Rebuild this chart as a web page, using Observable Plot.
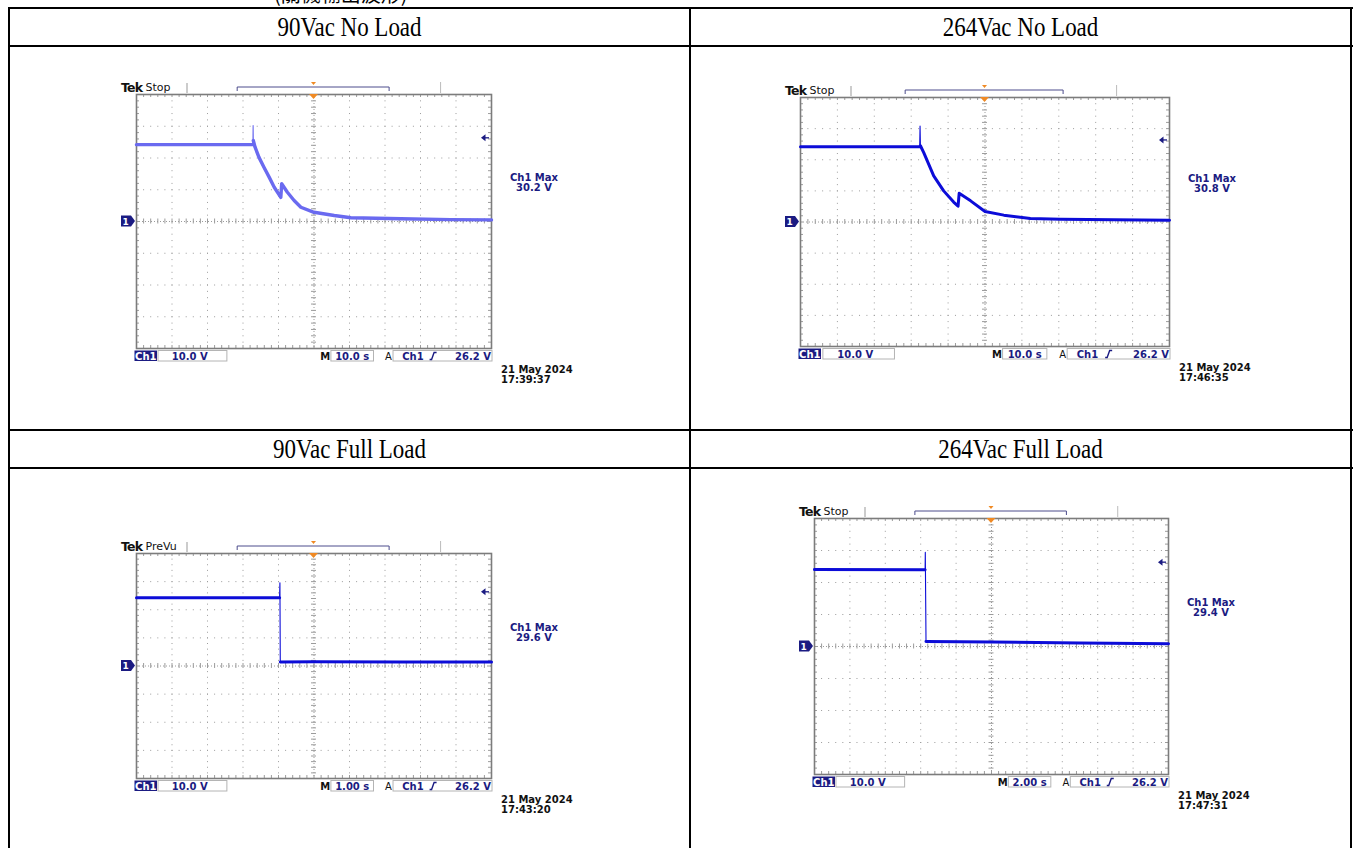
<!DOCTYPE html>
<html><head><meta charset="utf-8">
<script src="https://cdn.jsdelivr.net/npm/d3@7"></script>
<script src="https://cdn.jsdelivr.net/npm/@observablehq/plot@0.6"></script>
<style>
html,body{margin:0;padding:0;background:#fff;}
body{width:1359px;height:848px;overflow:hidden;position:relative;}
.hl{position:absolute;background:#000;height:2px;}
.vl{position:absolute;background:#000;width:2px;}
.hdr{position:absolute;display:flex;align-items:center;justify-content:center;font-family:"Liberation Serif",serif;font-size:28px;color:#000;transform:scaleX(0.82);white-space:nowrap;}
.scope{position:absolute;}
.cap{position:absolute;font-family:"Noto Sans CJK TC",sans-serif;font-size:20px;color:#000;white-space:nowrap;}
</style></head><body>
<script>
// ---------- data ----------
const headers = ["90Vac No Load", "264Vac No Load", "90Vac Full Load", "264Vac Full Load"];
const statusTexts = ["Stop", "Stop", "PreVu", "Stop"];
const secPerDiv = [10, 10, 1, 2];
const timebaseLabels = ["10.0 s", "10.0 s", "1.00 s", "2.00 s"];
const voltsPerDiv = 10;
const voltsPerDivLabel = "10.0 V";
const trigLevel = 26.2;
const trigLabel = "26.2 V";
const maxLabels = ["30.2 V", "30.8 V", "29.6 V", "29.4 V"];
const dateLabels = ["21 May 2024", "21 May 2024", "21 May 2024", "21 May 2024"];
const clockLabels = ["17:39:37", "17:46:35", "17:43:20", "17:47:31"];

// trace values: [time (s), volts]
const nl90Flat = [[-50, 24.2], [-17.2, 24.2]];
const nl90Peak = [-17.15, 30.2];
const nl90Tail = [[-17.1, 25.5], [-16.6, 23.4], [-15.5, 20.2], [-14.1, 17.1], [-12.6, 13.9], [-11.2, 10.8], [-9.35, 7.6], [-9.1, 11.9], [-7.5, 9.2], [-5.6, 6.6], [-3.7, 4.5], [0, 2.9], [5.7, 1.9], [10.4, 1.2], [24.5, 0.85], [38.5, 0.6], [50, 0.5]];

const nl264Flat = [[-50, 24.2], [-17.7, 24.2]];
const nl264Peak = [-17.6, 30.8];
const nl264Tail = [[-17.5, 24.5], [-16.6, 22.3], [-13.9, 14.8], [-11.2, 10.0], [-8.5, 6.4], [-7.3, 5.1], [-7.0, 9.2], [-3.9, 6.8], [0, 3.4], [5.1, 2.2], [12.3, 1.1], [20.5, 0.9], [35, 0.7], [50, 0.6]];

const fl90Flat = [[-5, 24.3], [-0.97, 24.3]];
const fl90Peak = [-0.96, 29.6];
const fl90Tail = [[-0.95, 1.4], [0, 1.5], [2.5, 1.4], [5, 1.4]];

const fl264Flat = [[-10, 24.1], [-3.75, 24.0]];
const fl264Peak = [-3.74, 29.4];
const fl264Tail = [[-3.7, 1.6], [0, 1.4], [5, 1.1], [10, 0.85]];

const flats = [nl90Flat, nl264Flat, fl90Flat, fl264Flat];
const peaks = [nl90Peak, nl264Peak, fl90Peak, fl264Peak];
const tails = [nl90Tail, nl264Tail, fl90Tail, fl264Tail];

// ---------- layout (pixels) ----------
const layout = [
  {gl: 136, gt: 94, gr: 491, gb: 348, color: "#6a6af0"},
  {gl: 800, gt: 97, gr: 1169, gb: 346, color: "#0c0cd8"},
  {gl: 136, gt: 553, gr: 491, gb: 778, color: "#0c0cd8"},
  {gl: 814, gt: 518, gr: 1168, gb: 774, color: "#0c0cd8"}
];
const NAVY = "#1b1b82";
const GRID = "#9c9c9c";
const FONT = "DejaVu Sans, sans-serif";

// ---------- table ----------
function el(cls, css, txt) {
  const d = document.createElement("div");
  d.className = cls;
  Object.assign(d.style, css);
  if (txt != null) d.textContent = txt;
  document.body.appendChild(d);
  return d;
}
el("cap", {left: "274px", top: "-21px"}, "(關機輸出波形)");
[7, 45, 429, 467].forEach(y => el("hl", {left: "8px", top: y + "px", width: "1345px"}));
[8, 689, 1350].forEach(x => el("vl", {left: x + "px", top: "7px", height: "841px"}));
const cols = [[10, 689], [691, 1350]];
const rows = [9, 431];
headers.forEach((h, i) => {
  const c = cols[i % 2], r = rows[Math.floor(i / 2)];
  el("hdr", {left: c[0] + "px", width: (c[1] - c[0]) + "px", top: r + "px", height: "36px"}, h);
});

// ---------- scopes ----------
function scope(i) {
  const L = layout[i];
  const W = L.gr - L.gl, H = L.gb - L.gt;
  const ml = 40, mt = 28, mr = 100, mb = 45;
  const td = secPerDiv[i];
  const xd = [-5 * td, 5 * td], yd = [-4 * voltsPerDiv, 4 * voltsPerDiv];
  const pdx = W / 10, pdy = H / 8;
  const vPx = voltsPerDiv / pdy, tPx = td / pdx;
  const divX = d3.range(-4, 5).filter(k => k !== 0).map(k => k * td);
  const divY = d3.range(-3, 4).filter(k => k !== 0).map(k => k * voltsPerDiv);
  const subX = d3.range(-25, 26).map(k => k * td / 5);
  const subY = d3.range(-20, 21).map(k => k * voltsPerDiv / 5);
  const fl = flats[i], pk = peaks[i], tl = tails[i];
  const full = [...fl, pk, ...tl];
  const X = d => d[0], Y = d => d[1];
  const thick = i === 0 ? 3.4 : 3;
  const chart = Plot.plot({
    width: ml + W + mr, height: mt + H + mb,
    marginLeft: ml, marginTop: mt, marginRight: mr, marginBottom: mb,
    x: {domain: xd, axis: null},
    y: {domain: yd, axis: null},
    style: {background: "transparent", overflow: "visible"},
    marks: [
      Plot.ruleX(divX, {stroke: GRID, strokeDasharray: `1 ${pdy / 5 - 1}`}),
      Plot.ruleY(divY, {stroke: GRID, strokeDasharray: `1 ${pdx / 5 - 1}`}),
      Plot.ruleX([0], {stroke: GRID, strokeDasharray: "1 2"}),
      Plot.ruleY([0], {stroke: GRID, strokeDasharray: "1 2"}),
      Plot.ruleX(subX, {y1: -2.5 * vPx, y2: 2.5 * vPx, stroke: GRID}),
      Plot.ruleY(subY, {x1: -2.5 * tPx, x2: 2.5 * tPx, stroke: GRID}),
      Plot.ruleX(subX, {y1: yd[1], y2: yd[1] - 3 * vPx, stroke: GRID}),
      Plot.ruleX(subX, {y1: yd[0], y2: yd[0] + 3 * vPx, stroke: GRID}),
      Plot.ruleY(subY, {x1: xd[0], x2: xd[0] + 3 * tPx, stroke: GRID}),
      Plot.ruleY(subY, {x1: xd[1], x2: xd[1] - 3 * tPx, stroke: GRID}),
      Plot.frame({stroke: "#7c7c7c", strokeWidth: 1.6}),
      Plot.line(full, {x: X, y: Y, stroke: L.color, strokeWidth: 1.1}),
      Plot.line(fl, {x: X, y: Y, stroke: L.color, strokeWidth: thick}),
      Plot.line(tl, {x: X, y: Y, stroke: L.color, strokeWidth: thick})
    ]
  });
  const sx = chart.scale("x"), sy = chart.scale("y");
  const svg = d3.select(chart);
  const g = svg.append("g").attr("transform", `translate(${ml},${mt})`);
  const x0 = sx.apply(0) - ml;
  const yG = sy.apply(0) - mt;
  const yT = sy.apply(trigLevel) - mt;
  const txt = (x, y, s, o = {}) => g.append("text").attr("x", x).attr("y", y)
    .attr("font-family", FONT).attr("font-size", o.size || 10).attr("font-weight", o.weight || "bold")
    .attr("fill", o.fill || NAVY).attr("text-anchor", o.anchor || "start").text(s);
  const box = (x1, x2, y1, h) => g.append("rect").attr("x", x1).attr("y", y1).attr("width", x2 - x1).attr("height", h)
    .attr("fill", "none").attr("stroke", "#b4b4b4").attr("stroke-width", 1);
  // header bar
  txt(-15, -2.5, "Tek", {size: 12.5, fill: "#111"}).attr("letter-spacing", "-0.8");
  txt(9.5, -3, statusTexts[i], {size: 11, weight: "normal", fill: "#111"});
  g.append("line").attr("x1", 51).attr("x2", 51).attr("y1", -11).attr("y2", -1).attr("stroke", "#999");
  g.append("line").attr("x1", 0.858 * W).attr("x2", 0.858 * W).attr("y1", -12).attr("y2", -1).attr("stroke", "#bbb");
  g.append("path").attr("d", `M${0.285 * W},-3V-7H${0.713 * W}V-3`).attr("fill", "none").attr("stroke", "#4c4c8c").attr("stroke-width", 1);
  g.append("path").attr("d", `M${x0 - 2.5},-12H${x0 + 2.5}L${x0},-9Z`).attr("fill", "#f08a24");
  // trigger position marker
  g.append("path").attr("d", `M${x0 - 4.5},0H${x0 + 4.5}L${x0},5Z`).attr("fill", "#f08a24");
  // ground marker
  g.append("path").attr("d", `M-15,${yG - 5.5}H-5L-1,${yG}L-5,${yG + 5.5}H-15Z`).attr("fill", NAVY);
  txt(-10.5, yG + 3.8, "1", {size: 9, fill: "#fff"}).attr("text-anchor", "middle");
  // trigger level marker
  g.append("path").attr("d", `M${W - 10},${yT}L${W - 5.5},${yT - 3.5}V${yT + 3.5}Z`).attr("fill", NAVY);
  g.append("line").attr("x1", W - 6).attr("x2", W - 2).attr("y1", yT).attr("y2", yT).attr("stroke", NAVY).attr("stroke-width", 1.3);
  // max readout
  const ym = 0.327 * H;
  txt(W + 43, ym + 4, "Ch1 Max", {anchor: "middle"});
  txt(W + 43, ym + 14, maxLabels[i], {anchor: "middle"});
  // bottom readouts
  const yb = H + 2.5, bh = 10.5, tb = H + 11.5;
  g.append("rect").attr("x", -1.5).attr("y", yb).attr("width", 22.5).attr("height", bh).attr("fill", NAVY);
  txt(9.75, tb, "Ch1", {fill: "#fff", anchor: "middle"});
  box(0.062 * W, 0.256 * W, yb, bh);
  txt(0.101 * W, tb, voltsPerDivLabel);
  txt(0.547 * W, tb, "M", {fill: "#111", anchor: "end"});
  box(0.549 * W, 0.669 * W, yb, bh);
  txt(0.609 * W, tb, timebaseLabels[i], {anchor: "middle"});
  txt(0.721 * W, tb, "A", {fill: "#111", anchor: "end", weight: "normal"});
  box(0.724 * W, W + 1, yb, bh);
  txt(0.75 * W, tb, "Ch1");
  const sxp = 0.827 * W;
  g.append("path").attr("d", `M${sxp},${tb}H${sxp + 2}L${sxp + 4.5},${tb - 7}H${sxp + 7}`).attr("fill", "none").attr("stroke", NAVY).attr("stroke-width", 1.4);
  txt(W, tb, trigLabel, {anchor: "end"});
  // date
  txt(W + 10, H + 25, dateLabels[i], {fill: "#111"});
  txt(W + 10, H + 35, clockLabels[i], {fill: "#111"});

  const wrap = document.createElement("div");
  wrap.className = "scope";
  wrap.style.left = (L.gl - ml) + "px";
  wrap.style.top = (L.gt - mt) + "px";
  wrap.appendChild(chart);
  document.body.appendChild(wrap);
}
[0, 1, 2, 3].forEach(scope);
</script>
</body></html>
